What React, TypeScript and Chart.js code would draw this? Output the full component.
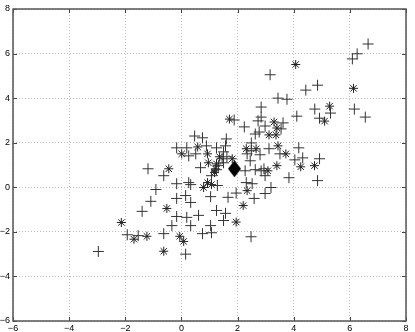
import { useEffect, useRef } from 'react';
import { Chart, registerables } from 'chart.js';
Chart.register(...registerables);

const xTicks = [-6, -4, -2, 0, 2, 4, 6, 8];
const yTicks = [-6, -4, -2, 0, 2, 4, 6, 8];

const plusX = [6.65, 6.26, 6.09, 3.16, 4.85, 4.43, 3.44, 3.76, 6.16, 4.75, 2.84, 5.31, 6.55, 4.11, 4.92, 2.84, 1.88, 2.24, 2.73, 2.98, 3.62, 3.55, 2.63, 2.77, 0.47, 0.75, 1.60, -0.17, 0.19, 0.89, 1.25, 1.57, 2.49, 2.49, 3.12, 4.18, 2.34, 2.80, 3.51, 4.32, 4.04, 4.92, 0.26, 0.51, 1.50, 1.62, 1.45, 1.32, 1.50, 2.45, 0.68, -1.19, 2.27, 2.63, 2.84, 2.94, 1.25, -0.63, 1.07, 2.98, 3.83, 4.85, -0.17, 0.26, 0.33, 1.28, 2.31, 2.52, 3.19, -0.91, 2.98, 1.95, 1.04, 0.15, -0.17, 1.66, 2.59, 0.33, -1.09, -1.40, 1.25, 1.57, -0.17, 0.19, 0.61, -0.34, 0.33, 1.04, 1.50, -0.63, 0.75, 1.07, 2.48, -1.54, -1.93, 0.15, -2.96];
const plusY = [6.43, 5.99, 5.76, 5.05, 4.58, 4.36, 4.00, 3.95, 3.51, 3.51, 3.60, 3.33, 3.15, 3.19, 3.10, 3.15, 3.02, 2.71, 2.98, 2.75, 2.89, 2.62, 2.39, 2.48, 2.30, 2.22, 2.17, 1.77, 1.77, 1.86, 1.77, 1.86, 1.99, 1.64, 1.73, 1.77, 1.50, 1.46, 1.50, 1.32, 1.23, 1.28, 1.41, 1.50, 1.59, 1.37, 1.28, 0.97, 1.10, 1.19, 0.88, 0.83, 0.74, 0.79, 0.74, 0.83, 0.79, 0.52, 0.52, 0.52, 0.43, 0.30, 0.16, 0.21, 0.12, 0.08, 0.21, 0.16, -0.01, -0.10, -0.28, -0.26, -0.42, -0.37, -0.50, -0.45, -0.50, -0.68, -0.63, -1.08, -1.04, -1.17, -1.31, -1.35, -1.26, -1.72, -1.72, -1.72, -1.49, -2.08, -2.08, -2.04, -2.22, -2.17, -2.13, -3.00, -2.88];

const starX = [4.07, 6.13, 5.28, 5.10, 1.71, 3.30, 3.40, 3.12, 3.37, 3.44, 3.72, 2.31, 2.66, 0.58, 0.01, 0.93, 1.36, 1.81, 0.96, 1.25, 4.25, 4.74, 3.40, 3.08, -0.45, 1.21, 1.18, 0.93, 1.07, 0.79, 2.34, 2.20, -0.52, 1.95, -2.14, -1.69, -1.23, -0.06, 0.08, -0.63];
const starY = [5.51, 4.44, 3.64, 2.97, 3.06, 2.93, 2.66, 2.35, 2.35, 1.86, 1.50, 1.73, 1.73, 1.81, 1.50, 1.50, 1.37, 1.28, 1.10, 1.05, 0.92, 0.97, 0.97, 0.74, 0.83, 0.83, 0.66, 0.21, 0.12, -0.01, -0.15, -0.82, -0.95, -1.56, -1.58, -2.33, -2.20, -2.20, -2.43, -2.87];

const centerX = [1.89];
const centerY = [0.83];

const toPts = (xs: number[], ys: number[]) => xs.map((x, i) => ({ x, y: ys[i] }));
const fmt = (v: number | string) => {
  const n = Number(v);
  return n < 0 ? '\u2212' + Math.abs(n) : String(n);
};

function makeDiamond() {
  const c = document.createElement('canvas');
  c.width = 13;
  c.height = 17;
  const g = c.getContext('2d')!;
  g.fillStyle = '#000';
  g.beginPath();
  g.moveTo(6.5, 0);
  g.lineTo(13, 8.5);
  g.lineTo(6.5, 17);
  g.lineTo(0, 8.5);
  g.closePath();
  g.fill();
  return c;
}

const boxPlugin = {
  id: 'matlabBox',
  afterDraw(chart: any) {
    const { ctx, chartArea: a, scales } = chart;
    ctx.save();
    ctx.strokeStyle = '#444';
    ctx.lineWidth = 1;
    const line = (x1: number, y1: number, x2: number, y2: number) => {
      ctx.beginPath();
      ctx.moveTo(x1, y1);
      ctx.lineTo(x2, y2);
      ctx.stroke();
    };
    xTicks.forEach((v) => {
      const px = Math.round(scales.x.getPixelForValue(v)) + 0.5;
      line(px, a.bottom, px, a.bottom - 4);
      line(px, a.top, px, a.top + 4);
    });
    yTicks.forEach((v) => {
      const py = Math.round(scales.y.getPixelForValue(v)) + 0.5;
      line(a.left, py, a.left + 4, py);
      line(a.right, py, a.right - 4, py);
    });
    ctx.lineWidth = 1.5;
    ctx.strokeStyle = '#555';
    ctx.strokeRect(a.left, a.top, a.right - a.left, a.bottom - a.top);
    ctx.restore();
  },
};

export default function App() {
  const ref = useRef<HTMLCanvasElement>(null);
  useEffect(() => {
    if (!ref.current) return;
    const font = { family: '"Liberation Sans", Arial, sans-serif', size: 9 };
    const chart = new Chart(ref.current, {
      type: 'scatter',
      data: {
        datasets: [
          {
            data: toPts(plusX, plusY),
            pointStyle: 'cross',
            pointRadius: 5.5,
            pointBorderColor: '#333',
            pointBorderWidth: 1,
            pointBackgroundColor: '#333',
          },
          {
            data: toPts(starX, starY),
            pointStyle: 'star',
            pointRadius: 4.5,
            pointBorderColor: '#222',
            pointBorderWidth: 1,
            pointBackgroundColor: '#222',
          },
          {
            data: toPts(centerX, centerY),
            pointStyle: makeDiamond() as any,
            pointRadius: 8,
          },
        ],
      },
      options: {
        animation: false,
        responsive: true,
        maintainAspectRatio: false,
        layout: { padding: { top: 7, right: 6, left: 0, bottom: 0 } },
        plugins: { legend: { display: false }, tooltip: { enabled: false } },
        scales: {
          x: {
            type: 'linear',
            min: -6,
            max: 8,
            afterFit: (s: any) => {
              s.height = 11;
            },
            ticks: { stepSize: 2, font, color: '#000', padding: 2, callback: fmt, maxRotation: 0 },
            grid: { color: '#bbb', drawTicks: false, lineWidth: 1 },
            border: { display: false, dash: [1, 2] },
          },
          y: {
            type: 'linear',
            min: -6,
            max: 8,
            afterFit: (s: any) => {
              s.width = 13;
            },
            ticks: { stepSize: 2, font, color: '#000', padding: 3, callback: fmt },
            grid: { color: '#bbb', drawTicks: false, lineWidth: 1 },
            border: { display: false, dash: [1, 2] },
          },
        },
      },
      plugins: [boxPlugin],
    });
    return () => chart.destroy();
  }, []);
  return (
    <div style={{ position: 'fixed', left: 0, top: 0, width: 415, height: 332 }}>
      <canvas ref={ref} />
    </div>
  );
}
